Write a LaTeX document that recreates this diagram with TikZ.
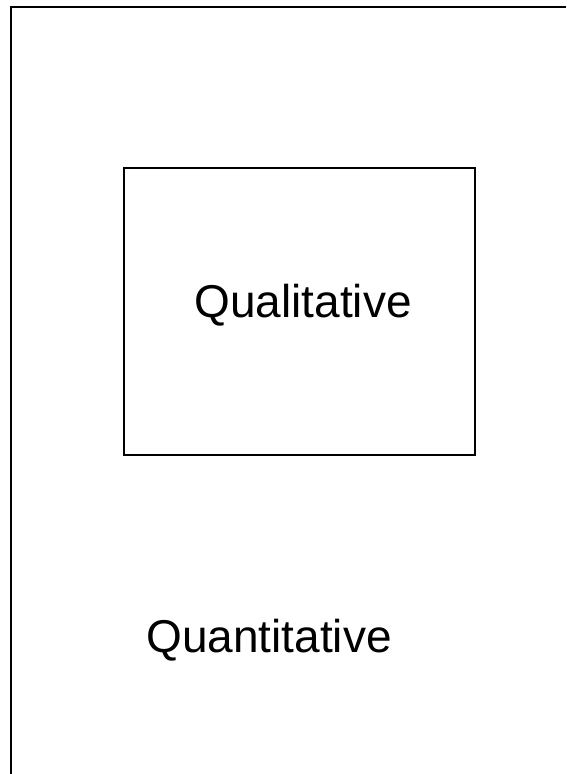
\documentclass[tikz,border=0pt]{standalone}
\usepackage{fontspec}
\setmainfont{Liberation Sans}
\usepackage{tikz}
\usetikzlibrary{positioning}

\begin{document}
\begin{tikzpicture}[x=1pt,y=-1pt, line width=2pt,
  every node/.style={font=\fontsize{46}{55}\selectfont, inner sep=0pt},
  frame/.style={draw=black, line width=2pt}]
 \useasboundingbox (0,0) rectangle (566,774);
 \coordinate (topright) at (566,7);
 \coordinate (corner) at (11,7);
 \coordinate (bottomleft) at (11,774);
 \draw[frame] (topright) -- (corner) -- (bottomleft);
 \node[frame,minimum width=351pt,minimum height=287pt,anchor=north west] (box) at (123,167) {};
 \node[anchor=base] (qual) at (303,317) {Qualitative};
 \node[anchor=base] (quant) at (269,652) {Quantitative};
\end{tikzpicture}
\end{document}
